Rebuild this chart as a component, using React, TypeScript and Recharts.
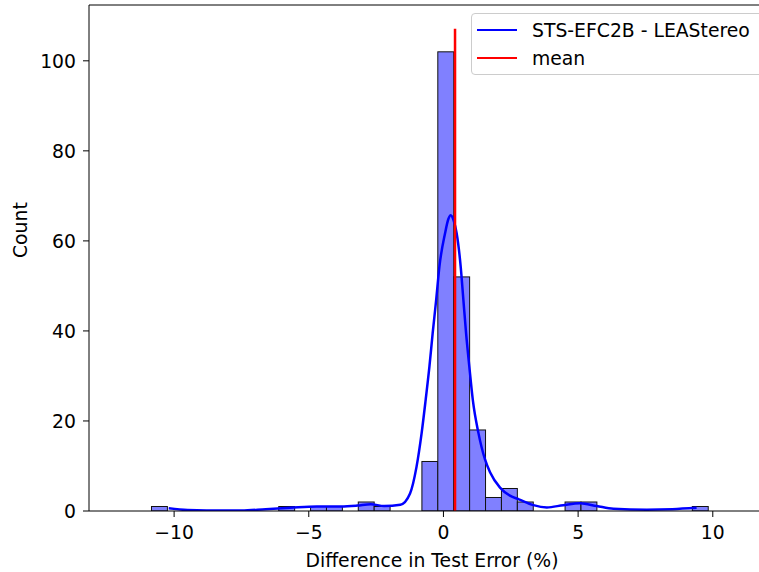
import React from 'react';
import { ComposedChart, Bar, Line, XAxis, YAxis, ReferenceLine } from 'recharts';

// histogram bins (left edge of first bin, width, counts per bin)
const binStart = -10.84;
const binWidth = 0.5906;
const binCounts = [
  1, 0, 0, 0, 0, 0, 0, 0, 1, 0, 1, 1, 0, 2, 1, 0, 0, 11, 102, 52,
  18, 3, 5, 2, 0, 0, 2, 2, 0, 0, 0, 0, 0, 0, 1,
];

// kde curve
const kdeX = [
  -10.2, -9.5, -8.8, -7.5, -6.6, -5.7, -4.7, -3.8, -3.2, -2.7, -2.2, -1.6, -1.24, -1.0, -0.81, -0.66,
  -0.52, -0.4, -0.27, -0.15, 0.06, 0.18, 0.27, 0.38, 0.49, 0.64, 0.74, 0.84, 0.96, 1.09, 1.3, 1.54,
  1.73, 2.1, 2.47, 2.8, 3.34, 3.84, 4.45, 5.07, 5.69, 6.31, 7.55, 8.5, 9.4,
];
const kdeY = [
  0.6, 0.2, 0.1, 0.1, 0.4, 0.7, 1.0, 1.0, 1.2, 1.5, 1.1, 1.4, 3.9, 9.8, 17.3, 24.7,
  32.1, 39.5, 46.9, 54.3, 61.7, 64.8, 65.7, 64.5, 61.7, 54.3, 46.9, 39.5, 32.1, 24.7, 17.3, 11.5,
  8.6, 5.2, 3.4, 2.6, 1.3, 0.8, 1.3, 1.7, 1.1, 0.5, 0.3, 0.4, 0.7,
];

const meanValue = 0.43;
const meanTop = 107.1;
const xDomain = [-13.16, 12.31];
const yDomain = [0, 112.4];
const xTicks = [-10, -5, 0, 5, 10];
const yTicks = [0, 20, 40, 60, 80, 100];
const seriesLabel = 'STS-EFC2B - LEAStereo';

const histData = binCounts.map((count, i) => ({ x: binStart + binWidth * (i + 0.5), count }));
const kdeData = kdeX.map((x, i) => ({ x, y: kdeY[i] }));

const FONT = 'DejaVu Sans, sans-serif';
const FS = 18.8;
// the figure is wider than the saved picture; its right edge is cut off
const CHART_W = 777;
const PLOT_W = CHART_W - 2 - 89;
const barPx = (binWidth * PLOT_W) / (xDomain[1] - xDomain[0]);

const fmt = (v: number) => (v < 0 ? '\u2212' + Math.abs(v) : String(v));

const XTick = (props: any) => {
  const { x, y, payload } = props;
  return (
    <text x={x} y={y + 20} textAnchor="middle" fontSize={FS} fontFamily={FONT} fill="#000">
      {fmt(payload.value)}
    </text>
  );
};

const YTick = (props: any) => {
  const { x, y, payload } = props;
  return (
    <text x={x - 5} y={y + 7} textAnchor="end" fontSize={FS} fontFamily={FONT} fill="#000">
      {payload.value}
    </text>
  );
};

const BinShape = (props: any) => {
  const { x, y, width, height } = props;
  if (!height || height <= 0) return null;
  const cx = x + (width || 0) / 2;
  return <rect x={cx - barPx / 2} y={y} width={barPx} height={height} fill="#8080ff" stroke="#111" strokeWidth={1} />;
};

const LegendBox = () => (
  <div
    style={{
      position: 'absolute',
      left: 471,
      top: 13,
      width: 296,
      height: 62,
      background: 'rgba(255,255,255,0.8)',
      border: '1px solid #cccccc',
      borderRadius: 4,
      fontFamily: FONT,
      fontSize: FS,
      boxSizing: 'border-box',
    }}
  >
    <div style={{ display: 'flex', alignItems: 'center', height: 28, marginTop: 2 }}>
      <div style={{ width: 40, height: 2.5, background: '#0000ff', marginLeft: 5, marginRight: 15 }} />
      <span>{seriesLabel}</span>
    </div>
    <div style={{ display: 'flex', alignItems: 'center', height: 28 }}>
      <div style={{ width: 40, height: 2.5, background: '#ff0000', marginLeft: 5, marginRight: 15 }} />
      <span>mean</span>
    </div>
  </div>
);

export default function App() {
  return (
    <div style={{ position: 'absolute', left: 0, top: 0, width: 759, height: 572, overflow: 'hidden', background: '#fff' }}>
      <ComposedChart width={CHART_W} height={572} data={histData} margin={{ top: 5, right: 2, left: 0, bottom: 0 }}>
        <XAxis
          dataKey="x"
          type="number"
          domain={xDomain}
          ticks={xTicks}
          allowDataOverflow
          height={61}
          stroke="#000"
          tickSize={6}
          tick={<XTick />}
          label={{ value: 'Difference in Test Error (%)', position: 'insideBottom', offset: 5, fontSize: FS, fontFamily: FONT, fill: '#000' }}
        />
        <YAxis
          type="number"
          domain={yDomain}
          ticks={yTicks}
          allowDataOverflow
          width={89}
          stroke="#000"
          tickSize={6}
          tick={<YTick />}
          label={{ value: 'Count', angle: -90, position: 'insideLeft', offset: 20, fontSize: FS, fontFamily: FONT, fill: '#000' }}
        />
        <Bar dataKey="count" fill="#8080ff" shape={<BinShape />} isAnimationActive={false} />
        <Line
          data={kdeData}
          dataKey="y"
          type="monotone"
          stroke="#0000ff"
          strokeWidth={2.5}
          dot={false}
          isAnimationActive={false}
        />
        <ReferenceLine
          segment={[{ x: meanValue, y: 0 }, { x: meanValue, y: meanTop }]}
          stroke="#ff0000"
          strokeWidth={2.5}
        />
        <ReferenceLine y={yDomain[1]} stroke="#000" strokeWidth={1} />
        <ReferenceLine x={xDomain[1]} stroke="#000" strokeWidth={1} />
      </ComposedChart>
      <LegendBox />
    </div>
  );
}
